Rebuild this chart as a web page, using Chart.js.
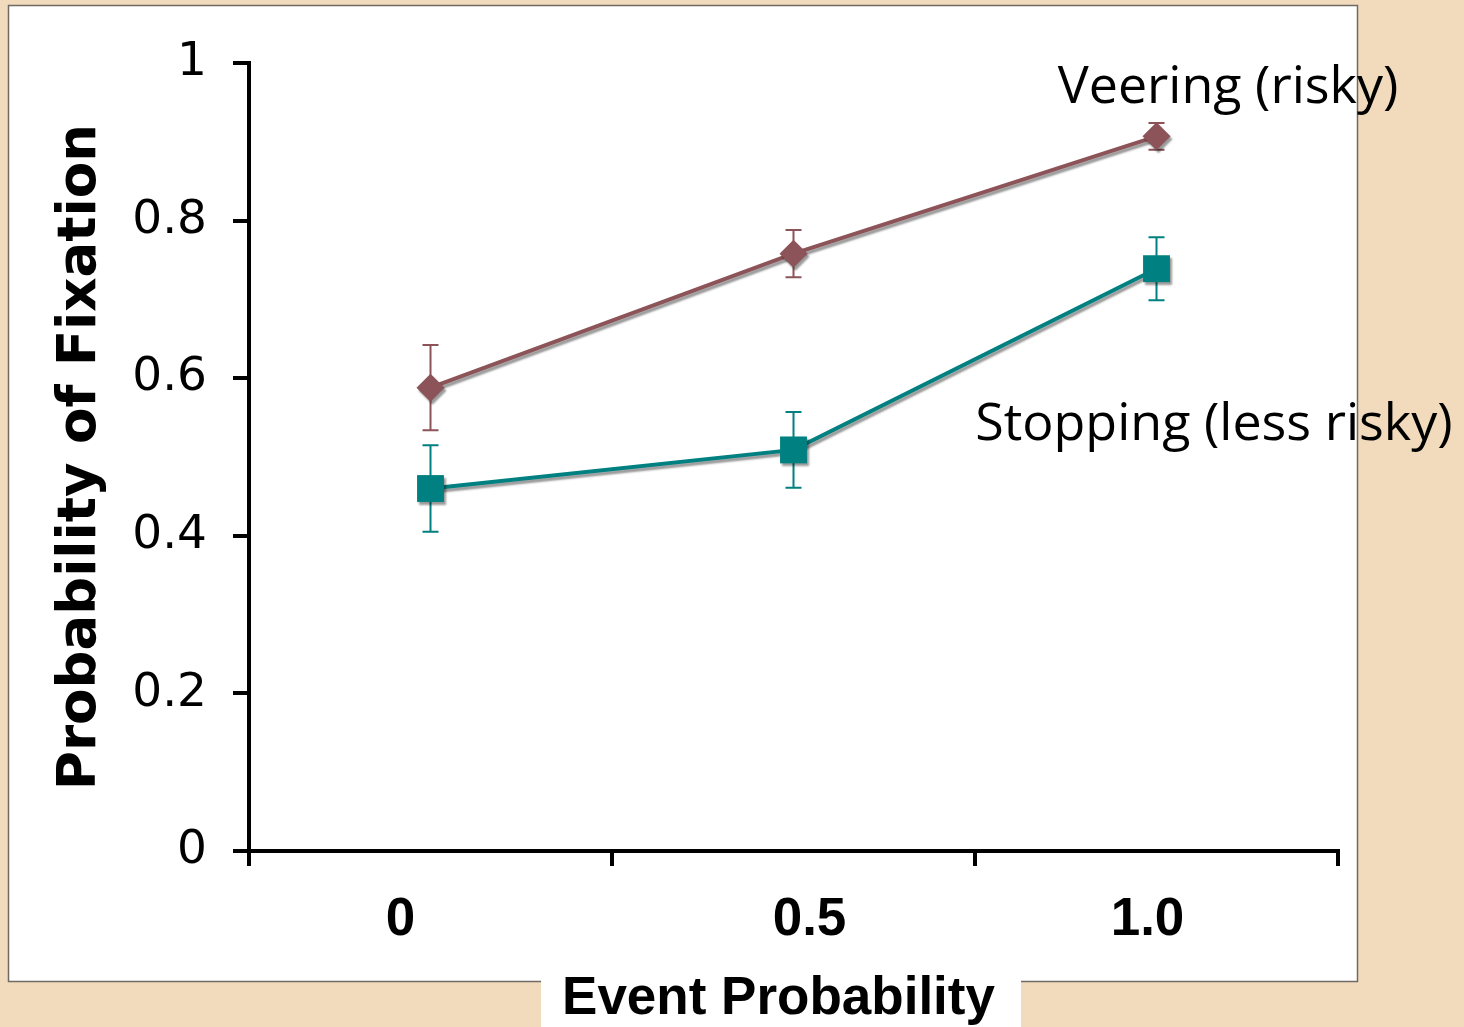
<!DOCTYPE html>
<html>
<head>
<meta charset="utf-8">
<script src="https://cdn.jsdelivr.net/npm/chart.js@4"></script>
<style>
  html, body { margin: 0; padding: 0; background: #F2DBBC; }
  #wrap { width: 1464px; height: 1027px; }
</style>
</head>
<body>
<div id="wrap"><canvas id="fixChart" width="1464" height="1027"></canvas></div>
<script>
// event probability categories
const categories = ["0", "0.5", "1.0"];

// probability of fixation
const veering = [0.588, 0.758, 0.907];
const veeringErr = [0.054, 0.030, 0.017];
const stopping = [0.460, 0.509, 0.739];
const stoppingErr = [0.055, 0.048, 0.040];

const yTicks = [0, 0.2, 0.4, 0.6, 0.8, 1];
const yTickLabels = ["0", "0.2", "0.4", "0.6", "0.8", "1"];

const VEER = "#8C5358";
const STOP = "#008080";

// page frame: beige background, white panel, white box under the x title
const framePlugin = {
    id: "frame",
    beforeDraw(chart) {
        const ctx = chart.ctx;
        ctx.save();
        ctx.fillStyle = "#F2DBBC";
        ctx.fillRect(0, 0, chart.width, chart.height);
        ctx.fillStyle = "#fff";
        ctx.fillRect(8, 5, 1349, 976);
        ctx.strokeStyle = "#6f6a64";
        ctx.lineWidth = 1.5;
        ctx.strokeRect(8.5, 5.5, 1349, 976);
        ctx.fillStyle = "#fff";
        ctx.fillRect(541, 978, 480, 60);
        ctx.restore();
    }
};

// error bars under the markers, then a soft shadow for lines + markers
const errorBarPlugin = {
    id: "errorBars",
    beforeDatasetsDraw(chart) {
        const ctx = chart.ctx;
        const y = chart.scales.y;
        ctx.save();
        chart.data.datasets.forEach(function(ds, i) {
            const meta = chart.getDatasetMeta(i);
            ctx.strokeStyle = ds.borderColor;
            ctx.lineWidth = 2;
            meta.data.forEach(function(pt, j) {
                const v = ds.data[j], e = ds.errors[j];
                const top = y.getPixelForValue(v + e);
                const bot = y.getPixelForValue(v - e);
                ctx.beginPath();
                ctx.moveTo(pt.x, top); ctx.lineTo(pt.x, bot);
                ctx.moveTo(pt.x - 8, top); ctx.lineTo(pt.x + 8, top);
                ctx.moveTo(pt.x - 8, bot); ctx.lineTo(pt.x + 8, bot);
                ctx.stroke();
            });
        });
        ctx.restore();

        ctx.save();
        ctx.shadowColor = "rgba(0,0,0,0.4)";
        ctx.shadowBlur = 2;
        ctx.shadowOffsetX = 2;
        ctx.shadowOffsetY = 3;
    },
    afterDatasetsDraw(chart) {
        chart.ctx.restore();
    }
};

// x tick labels + x title (nudged like the original) and the two series notes
const labelPlugin = {
    id: "labels",
    afterDraw(chart, args, opts) {
        const ctx = chart.ctx;
        const xs = chart.scales.x, ys = chart.scales.y;
        ctx.save();
        ctx.fillStyle = "#000";
        ctx.textBaseline = "middle";
        ctx.textAlign = "center";
        ctx.font = "bold 53px 'Liberation Sans', Arial, sans-serif";
        categories.forEach(function(c, i) {
            ctx.fillText(c, xs.getPixelForValue(i) + opts.nudge[i], xs.top + 69);
        });
        ctx.fillText(opts.xTitle, (xs.left + xs.right) / 2 - 15, xs.top + 148);
        ctx.font = "52px 'Open Sans', sans-serif";
        opts.notes.forEach(function(n) {
            ctx.fillText(n.text, xs.getPixelForValue(n.x), ys.getPixelForValue(n.y));
        });
        ctx.restore();
    }
};

const ctx = document.getElementById("fixChart").getContext("2d");

new Chart(ctx, {
    type: "line",
    data: {
        labels: categories,
        datasets: [{
            label: "Veering (risky)",
            data: veering,
            errors: veeringErr,
            borderColor: VEER,
            backgroundColor: VEER,
            borderWidth: 4,
            pointStyle: "rectRot",
            pointRadius: 14,
            pointBorderWidth: 0,
            pointHoverRadius: 14,
            fill: false
        }, {
            label: "Stopping (less risky)",
            data: stopping,
            errors: stoppingErr,
            borderColor: STOP,
            backgroundColor: STOP,
            borderWidth: 4,
            pointStyle: "rect",
            pointRadius: 19,
            pointBorderWidth: 0,
            pointHoverRadius: 19,
            fill: false
        }]
    },
    plugins: [framePlugin, errorBarPlugin, labelPlugin],
    options: {
        responsive: false,
        animation: false,
        events: [],
        layout: { padding: { top: 63, right: 126, bottom: 0, left: 0 } },
        plugins: {
            legend: { display: false },
            tooltip: { enabled: false },
            labels: {
                nudge: [-30, 16, -9],
                xTitle: "Event Probability",
                notes: [
                    { text: "Veering (risky)", x: 2.197, y: 0.968 },
                    { text: "Stopping (less risky)", x: 2.158, y: 0.541 }
                ]
            }
        },
        scales: {
            x: {
                type: "category",
                offset: true,
                afterFit(scale) { scale.height = 176; },
                grid: { offset: true, drawOnChartArea: false, drawTicks: true, tickLength: 15, color: "#000", lineWidth: 4 },
                border: { display: true, color: "#000", width: 4 },
                ticks: { display: false }
            },
            y: {
                min: 0,
                max: 1,
                afterFit(scale) { scale.width = 249; },
                afterBuildTicks(scale) { scale.ticks = yTicks.map(v => ({ value: v })); },
                grid: { drawOnChartArea: false, drawTicks: true, tickLength: 16, color: "#000", lineWidth: 4 },
                border: { display: true, color: "#000", width: 4 },
                ticks: {
                    color: "#000",
                    padding: 26,
                    font: { family: "'DejaVu Sans', sans-serif", size: 47 },
                    callback: function(value, index) { return yTickLabels[index]; }
                },
                title: {
                    display: true,
                    text: "Probability of Fixation",
                    color: "#000",
                    font: { family: "'DejaVu Sans', sans-serif", size: 53, weight: "bold" },
                    padding: { top: 49, bottom: 0 }
                }
            }
        }
    }
});
</script>
</body>
</html>
